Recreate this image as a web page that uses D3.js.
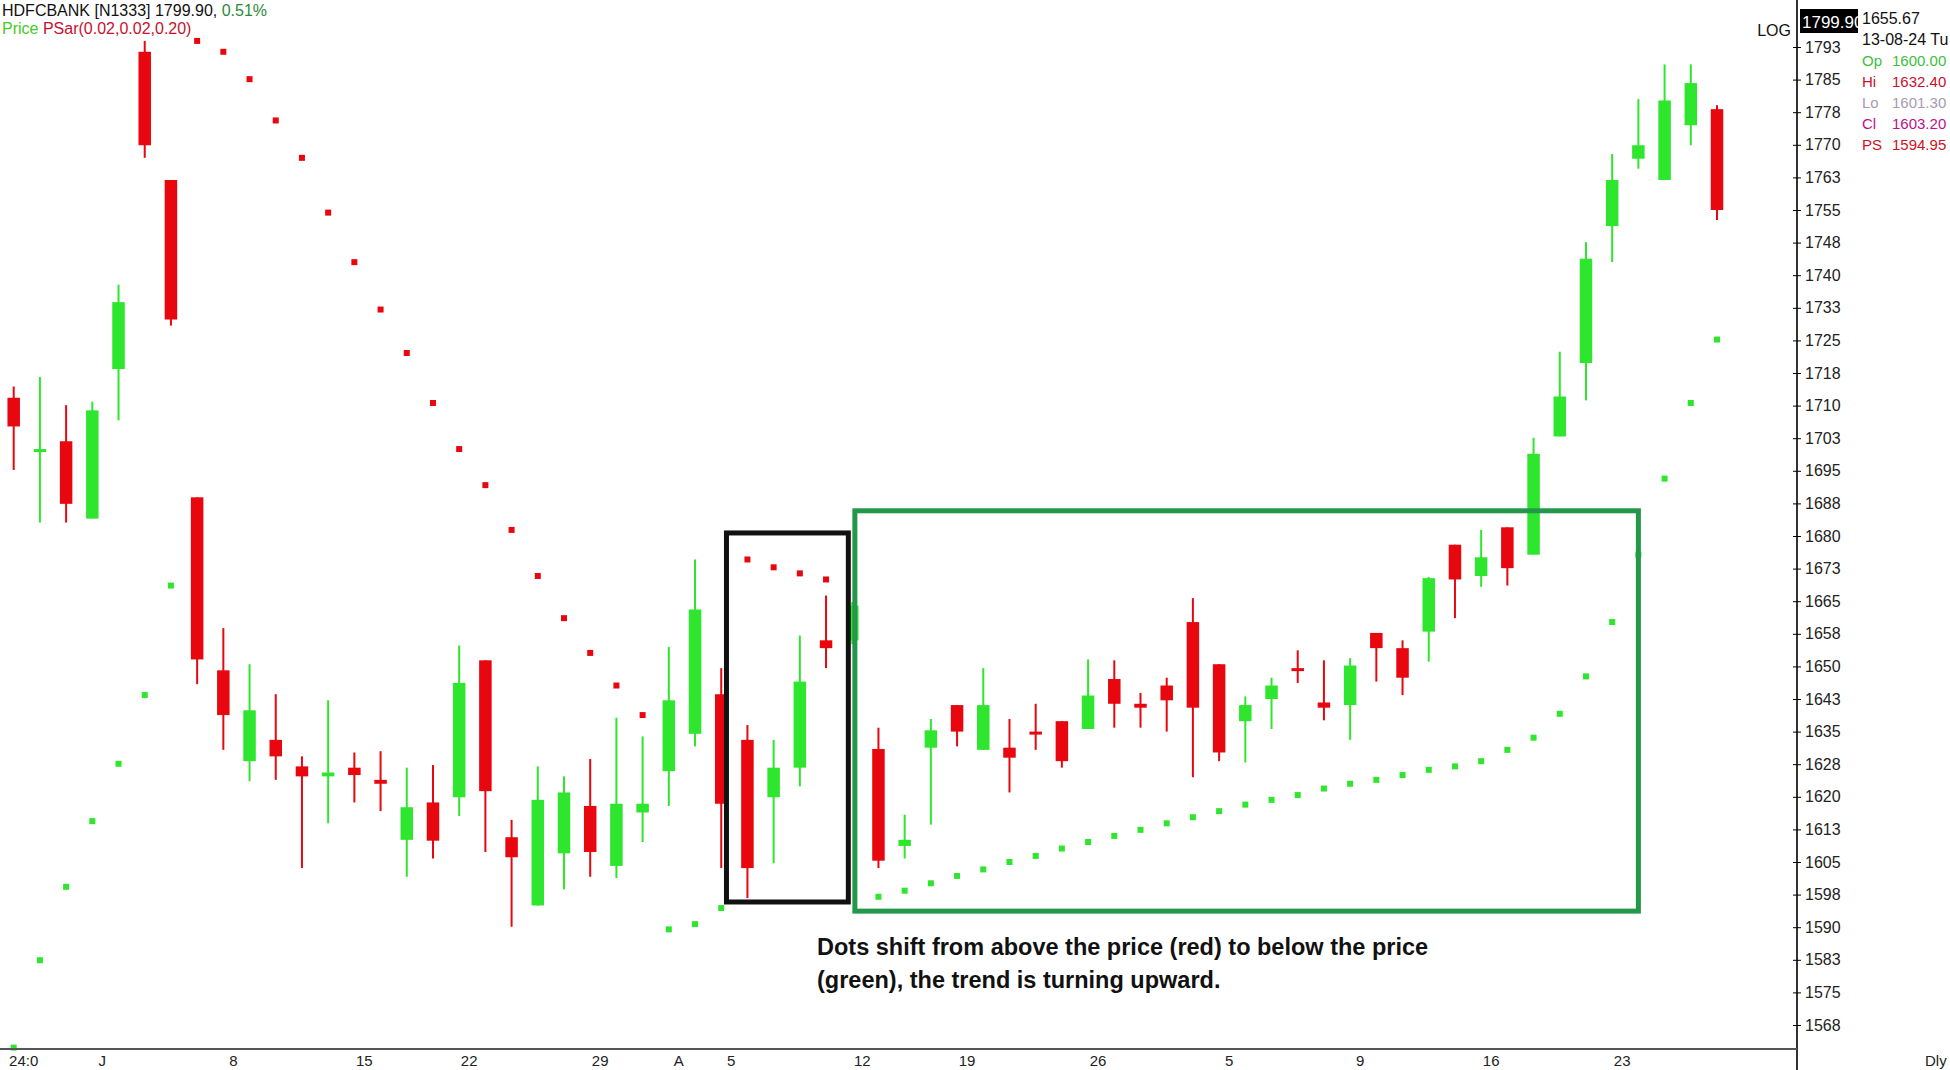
<!DOCTYPE html>
<html><head><meta charset="utf-8">
<script src="https://cdn.jsdelivr.net/npm/d3@7"></script>
<style>body{margin:0;background:#fff}svg{display:block}text{font-family:"Liberation Sans",Arial,sans-serif}</style>
</head><body>
<svg id="c" width="1950" height="1070"></svg>
<script>
const opens=[1712.3,1700.5,1702.3,1684.5,1718.9,1791.9,1762.4,1689.4,1649.6,1628.7,1633.6,1627.5,1625.2,1627.2,1624.4,1610.6,1619.2,1620.4,1651.9,1611.2,1595.5,1607.5,1618.4,1604.6,1616.9,1626.4,1635.0,1644.1,1633.6,1620.4,1627.2,1656.5,1656.5,1631.5,1609.2,1631.8,1641.6,1631.3,1631.8,1635.5,1637.9,1636.1,1647.6,1641.9,1646.1,1660.7,1651.0,1637.9,1643.0,1650.1,1642.2,1641.6,1658.2,1654.7,1658.5,1678.5,1671.3,1682.5,1676.2,1703.4,1720.3,1751.8,1767.3,1762.4,1775.0,1778.7];
const highs=[1714.9,1717.1,1710.6,1711.4,1738.3,1794.4,1762.4,1689.4,1659.3,1651.0,1644.1,1629.8,1642.7,1630.7,1631.0,1627.2,1627.8,1655.3,1651.9,1615.2,1627.5,1625.2,1629.2,1638.7,1634.4,1655.0,1675.1,1650.1,1637.0,1633.6,1657.6,1666.8,1665.3,1636.4,1616.4,1638.4,1641.6,1650.1,1638.4,1641.9,1637.9,1652.1,1651.9,1644.4,1647.9,1666.2,1651.0,1643.6,1647.9,1654.2,1651.9,1652.4,1658.2,1656.5,1671.1,1678.5,1681.9,1682.5,1703.1,1722.9,1748.1,1768.4,1781.0,1789.0,1789.0,1779.6];
const lows=[1695.7,1683.6,1683.6,1684.5,1707.1,1767.5,1728.9,1646.4,1631.3,1624.1,1624.4,1604.1,1614.4,1619.2,1617.2,1602.1,1606.3,1616.1,1607.8,1590.6,1595.5,1599.2,1602.1,1601.8,1610.1,1618.4,1632.1,1604.1,1597.2,1605.2,1622.9,1650.1,1655.6,1604.1,1606.3,1614.1,1632.1,1631.3,1621.5,1631.3,1627.2,1636.1,1636.4,1636.4,1635.5,1625.0,1628.7,1628.4,1636.1,1646.7,1638.1,1633.6,1647.0,1643.9,1651.6,1661.6,1668.8,1669.1,1676.2,1703.4,1711.7,1743.5,1765.0,1762.4,1770.4,1753.2];
const closes=[1705.7,1700.5,1687.9,1709.4,1734.3,1770.4,1730.3,1652.1,1639.3,1640.4,1629.8,1625.2,1626.1,1625.5,1623.5,1618.1,1610.4,1646.7,1621.8,1606.6,1619.8,1621.5,1607.8,1618.9,1618.9,1642.7,1663.6,1618.9,1604.1,1627.2,1647.0,1654.7,1664.5,1605.8,1610.6,1635.8,1635.5,1641.6,1629.5,1635.0,1628.7,1643.8,1641.9,1641.0,1642.7,1641.0,1630.7,1641.6,1646.1,1649.6,1641.0,1650.7,1654.7,1647.9,1670.8,1670.5,1675.6,1673.1,1699.4,1712.6,1744.3,1762.4,1770.4,1780.7,1784.7,1755.5];
const psar=[1562.8,1582.9,1599.8,1614.9,1628.1,1643.9,1669.1,1794.4,1791.9,1785.6,1776.1,1767.5,1754.9,1743.5,1732.6,1722.6,1711.1,1700.5,1692.2,1681.9,1671.3,1661.6,1653.6,1646.1,1639.3,1590.0,1591.2,1594.9,1675.1,1673.3,1671.9,1670.5,null,1597.5,1598.9,1600.6,1602.3,1603.8,1605.5,1606.9,1608.6,1610.1,1611.5,1612.9,1614.4,1615.8,1617.2,1618.7,1619.8,1620.9,1622.4,1623.5,1624.4,1625.5,1626.7,1627.5,1628.7,1631.3,1634.1,1639.6,1648.2,1660.7,1676.2,1693.7,1711.1,1725.7];
const tickValues=[1568,1575.5,1583,1590.5,1598,1605.5,1613,1620.5,1628,1635.5,1643,1650.5,1658,1665.5,1673,1680.5,1688,1695.5,1703,1710.5,1718,1725.5,1733,1740.5,1748,1755.5,1763,1770.5,1778,1785.5,1793];
const xLabels=[[0,"24:0"],[3,"J"],[8,"8"],[13,"15"],[17,"22"],[22,"29"],[25,"A"],[27,"5"],[32,"12"],[36,"19"],[41,"26"],[46,"5"],[51,"9"],[56,"16"],[61,"23"]];
const boxes=[{a:27.2,b:31.85,hi:1681.2,lo:1596.3,c:"#111"},{a:32.1,b:62.0,hi:1686.3,lo:1594.2,c:"#23984a"}];

const svg=d3.select("#c");
const x=d3.scaleLinear().domain([0,65]).range([13.7,1717]);
const y=d3.scaleLinear().domain([1568,1793]).range([1025,47]);
const RED="#e8070f",GRN="#2ee62e";
const bw=12.5;
const data=opens.map((o,i)=>({i,o,h:highs[i],l:lows[i],c:closes[i]}));
const g=svg.append("g");
data.forEach(d=>{
  const col=d.c>=d.o?GRN:RED;
  g.append("line").attr("x1",x(d.i)).attr("x2",x(d.i)).attr("y1",y(d.h)).attr("y2",y(d.l)).attr("stroke",col).attr("stroke-width",2);
  const t=y(Math.max(d.o,d.c)),b=y(Math.min(d.o,d.c));
  g.append("rect").attr("x",x(d.i)-bw/2).attr("y",t).attr("width",bw).attr("height",Math.max(3,b-t)).attr("fill",col);
});
psar.forEach((p,i)=>{ if(p==null)return;
  const col=p<lows[i]||p<closes[i]?GRN:RED;
  svg.append("rect").attr("x",x(i)-3).attr("y",y(p)-3).attr("width",6).attr("height",6).attr("fill",col);
});
boxes.forEach(b=>{
  svg.append("rect").attr("x",x(b.a)).attr("y",y(b.hi)).attr("width",x(b.b)-x(b.a)).attr("height",y(b.lo)-y(b.hi))
   .attr("fill","none").attr("stroke",b.c).attr("stroke-width",5);
});
svg.append("text").attr("x",817).attr("y",955).attr("font-size",23.5).attr("font-weight","bold").attr("fill","#111").text("Dots shift from above the price (red) to below the price");
svg.append("text").attr("x",817).attr("y",988).attr("font-size",23.5).attr("font-weight","bold").attr("fill","#111").text("(green), the trend is turning upward.");

const ax=1797;
const ya=svg.append("g").attr("transform",`translate(${ax},0)`).call(d3.axisRight(y).tickValues(tickValues).tickSize(5).tickFormat(v=>Math.floor(v)));
ya.select(".domain").attr("d",`M0,0V1070`).attr("stroke","#333").attr("stroke-width",2);
ya.selectAll(".tick line").attr("x1",-4).attr("x2",4);
ya.selectAll("text").attr("font-size",16).attr("fill","#222").attr("x",8);
svg.append("line").attr("x1",0).attr("x2",ax).attr("y1",1049).attr("y2",1049).attr("stroke","#555").attr("stroke-width",2);
const xa=svg.append("g");
xLabels.forEach(([i,t])=>xa.append("text").attr("x",x(i)+10).attr("y",1066).attr("text-anchor","middle").attr("font-size",15).attr("fill","#222").text(t));
svg.append("text").attr("x",1925).attr("y",1066).attr("font-size",15).attr("fill","#222").text("Dly");
svg.append("text").attr("x",ax-6).attr("y",36).attr("text-anchor","end").attr("font-size",16).attr("fill","#111").text("LOG");
svg.append("rect").attr("x",ax+3).attr("y",9).attr("width",58).attr("height",24).attr("fill","#000");
svg.append("text").attr("x",ax+5).attr("y",28).attr("font-size",17).attr("fill","#fff").text("1799.90");
const info=[["1655.67","#111",""],["13-08-24 Tu","#111",""],["Op","#3cbf3c","1600.00"],["Hi","#c8102e","1632.40"],["Lo","#a89ab0","1601.30"],["Cl","#c0108a","1603.20"],["PS","#d0101e","1594.95"]];
info.forEach((r,k)=>{const yy=24+k*21;
  if(!r[2]) svg.append("text").attr("x",1862).attr("y",yy).attr("font-size",16).attr("fill",r[1]).text(r[0]);
  else{svg.append("text").attr("x",1862).attr("y",yy).attr("font-size",15).attr("fill",r[1]).text(r[0]);
       svg.append("text").attr("x",1892).attr("y",yy).attr("font-size",15).attr("fill",r[1]).text(r[2]);}
});
const h=svg.append("text").attr("x",2).attr("y",16).attr("font-size",16).attr("fill","#111");
h.append("tspan").text("HDFCBANK [N1333] 1799.90,  ");
h.append("tspan").attr("fill","#2a8a3a").text("0.51%");
const h2=svg.append("text").attr("x",2).attr("y",34).attr("font-size",16);
h2.append("tspan").attr("fill","#44cc22").text("Price  ");
h2.append("tspan").attr("fill","#c8102e").text("PSar(0.02,0.02,0.20)");
</script></body></html>
